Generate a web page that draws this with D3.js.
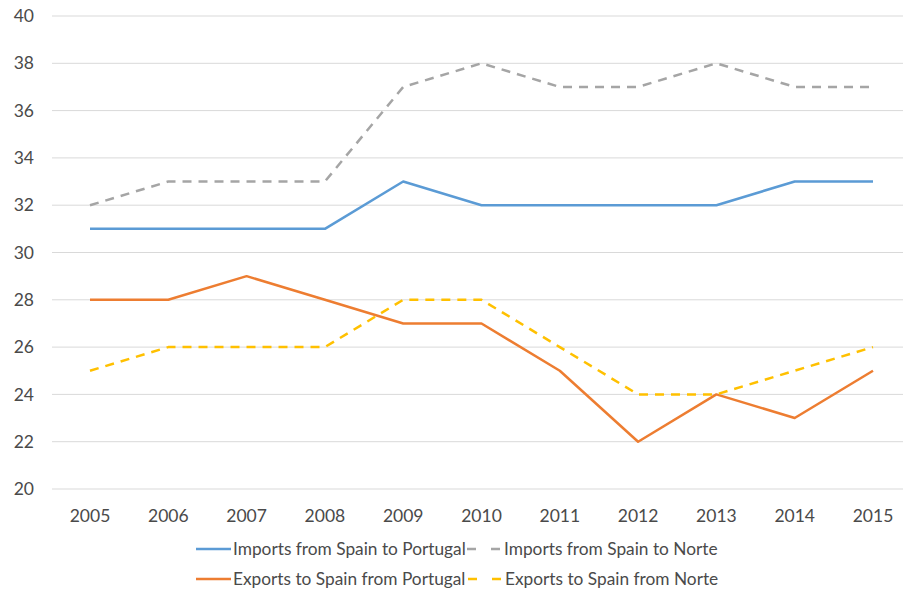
<!DOCTYPE html>
<html>
<head>
<meta charset="utf-8">
<script src="https://cdn.jsdelivr.net/npm/d3@7"></script>
<style>
  body { margin: 0; background: #fff; }
  svg text { font-family: Lato, sans-serif; fill: #4a4a4a; }
</style>
</head>
<body>
<script>
var width = 903;
var height = 592;

// data
var years = ["2005","2006","2007","2008","2009","2010","2011","2012","2013","2014","2015"];
var importsPortugal = [31,31,31,31,33,32,32,32,32,33,33];
var importsNorte = [32,33,33,33,37,38,37,37,38,37,37];
var exportsPortugal = [28,28,29,28,27,27,25,22,24,23,25];
var exportsNorte = [25,26,26,26,28,28,26,24,24,25,26];
var yTicks = [20,22,24,26,28,30,32,34,36,38,40];

var series = [
  {name: "Imports from Spain to Portugal", values: importsPortugal, color: "#5B9BD5", dash: null},
  {name: "Imports from Spain to Norte", values: importsNorte, color: "#A5A5A5", dash: "9,7"},
  {name: "Exports to Spain from Portugal", values: exportsPortugal, color: "#ED7D31", dash: null},
  {name: "Exports to Spain from Norte", values: exportsNorte, color: "#FFC000", dash: "9,7"}
];

var svg = d3.select("body").append("svg")
  .attr("width", width)
  .attr("height", height);

var x = d3.scalePoint().domain(years).range([90, 873]);
var y = d3.scaleLinear().domain([20, 40]).range([489, 16]);

// gridlines
svg.append("g").selectAll("line")
  .data(yTicks)
  .enter().append("line")
  .attr("x1", 52).attr("x2", 912)
  .attr("y1", function(d){ return y(d); })
  .attr("y2", function(d){ return y(d); })
  .style("stroke", "#d9d9d9")
  .style("stroke-width", 1);

// y tick labels
svg.append("g").selectAll("text")
  .data(yTicks)
  .enter().append("text")
  .attr("x", 34)
  .attr("y", function(d){ return y(d); })
  .attr("dy", "0.35em")
  .attr("text-anchor", "end")
  .style("font-size", "17.5px")
  .text(function(d){ return d; });

// x tick labels
svg.append("g").selectAll("text")
  .data(years)
  .enter().append("text")
  .attr("x", function(d){ return x(d); })
  .attr("y", 516)
  .attr("dy", "0.35em")
  .attr("text-anchor", "middle")
  .style("font-size", "17.5px")
  .text(function(d){ return d; });

var line = d3.line()
  .x(function(d, i){ return x(years[i]); })
  .y(function(d){ return y(d); });

svg.append("g").selectAll("path")
  .data(series)
  .enter().append("path")
  .attr("d", function(d){ return line(d.values); })
  .style("fill", "none")
  .style("stroke", function(d){ return d.color; })
  .style("stroke-width", 2.5)
  .style("stroke-dasharray", function(d){ return d.dash; })
  .style("stroke-linejoin", "round");

// legend
var legendPos = [
  {x: 196, y: 549}, {x: 467, y: 549},
  {x: 196, y: 579}, {x: 468, y: 579}
];
var legend = svg.append("g").selectAll("g")
  .data(series)
  .enter().append("g")
  .attr("transform", function(d, i){ return "translate(" + legendPos[i].x + "," + legendPos[i].y + ")"; });

legend.append("line")
  .attr("x1", 0).attr("x2", 35)
  .attr("y1", 0).attr("y2", 0)
  .style("stroke", function(d){ return d.color; })
  .style("stroke-width", 2.5)
  .style("stroke-dasharray", function(d){ return d.dash ? "9,15" : null; });

legend.append("text")
  .attr("x", 37)
  .attr("dy", "0.35em")
  .style("font-size", "17.3px")
  .text(function(d){ return d.name; });
</script>
</body>
</html>
